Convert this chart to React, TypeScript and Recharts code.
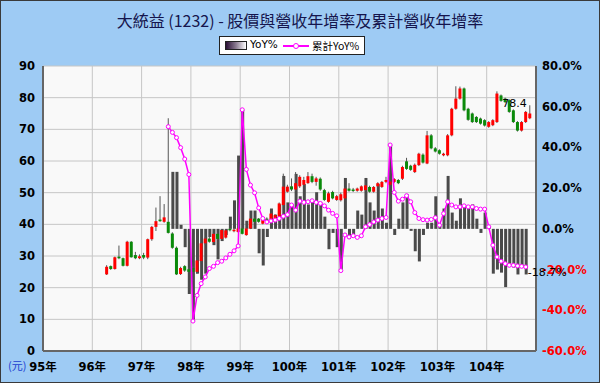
import React from 'react';
import { ComposedChart, Bar, Line, XAxis, YAxis, CartesianGrid, ReferenceDot } from 'recharts';

const TITLE = '大統益 (1232) - 股價與營收年增率及累計營收年增率';

// month index 0 = 95年1月; the chart runs to 104年12月
const MONTH_COUNT = 120;
const PRICE_START = 15; // first candle: 96年4月
const REV_START = 30; // first revenue point: 97年7月

const yearTicks = [-0.5, 11.5, 23.5, 35.5, 47.5, 59.5, 71.5, 83.5, 95.5, 107.5];
const yearLabels = ['95年', '96年', '97年', '98年', '99年', '100年', '101年', '102年', '103年', '104年'];
const priceTicks = [0, 10, 20, 30, 40, 50, 60, 70, 80, 90];
const pctTicks = [-60, -40, -20, 0, 20, 40, 60, 80];

// monthly candles, 96/04 .. 104/11
const priceOpen = [
  24.2, 26.8, 25.9, 29.8, 29.3, 26.9, 34.5, 30.3, 29.3,
  30.3, 29.5, 35.3, 39.2, 41.5, 40.8, 40.8, 37.1, 32.6, 24.3, 26.8, 25.8,
  26.2, 25.0, 28.4, 34.0, 35.5, 34.4, 37.0, 35.4, 35.8, 38.6, 37.9, 37.6,
  38.7, 36.6, 38.7, 41.8, 41.8, 40.2, 41.8, 41.3, 40.8, 42.4, 46.1, 50.3,
  52.0, 51.0, 52.0, 52.5, 53.0, 55.2, 53.4, 54.4, 50.8, 47.1, 50.2, 47.7,
  47.6, 48.2, 51.3, 51.0, 50.6, 50.6, 50.8, 51.8, 50.3, 52.0, 51.8, 53.4,
  52.5, 53.4, 54.0, 54.4, 59.9, 58.5, 56.5, 58.7, 62.0, 59.2, 68.1, 64.0,
  63.4, 61.8, 61.8, 68.1, 76.5, 79.7, 82.9, 76.5, 75.0, 73.9, 73.4, 72.9,
  70.8, 71.3, 72.3, 80.7, 79.7, 79.2, 76.0, 72.3, 69.6, 72.3, 73.5,
];
const priceHigh = [
  27.1, 27.0, 29.8, 33.3, 29.5, 34.8, 34.7, 31.3, 30.5,
  31.0, 35.5, 39.5, 45.3, 48.9, 46.4, 73.5, 37.5, 33.0, 26.6, 27.1, 26.5,
  26.8, 28.9, 34.3, 36.0, 36.2, 37.3, 37.4, 38.5, 38.5, 38.9, 38.6, 38.9,
  39.0, 38.9, 42.0, 42.2, 42.0, 42.0, 42.2, 43.8, 43.2, 46.9, 56.0, 52.5,
  54.5, 56.5, 55.5, 55.0, 56.5, 56.0, 55.0, 54.8, 51.2, 50.3, 50.6, 49.3,
  50.0, 51.8, 53.0, 51.5, 51.6, 52.3, 53.5, 52.2, 52.1, 53.3, 53.7, 55.0,
  53.8, 54.6, 54.3, 58.5, 61.0, 58.8, 59.2, 62.6, 62.4, 69.5, 68.5, 64.4,
  63.7, 62.6, 68.5, 76.8, 83.6, 83.5, 83.2, 76.8, 75.3, 74.2, 73.7, 73.2,
  72.6, 73.2, 82.0, 81.0, 80.0, 79.5, 76.3, 72.6, 72.6, 75.8, 77.6,
];
const priceLow = [
  24.0, 25.6, 25.7, 29.0, 26.7, 26.7, 29.5, 29.0, 29.0,
  29.0, 29.0, 34.8, 37.9, 40.8, 40.5, 37.1, 32.3, 24.0, 24.0, 25.0, 24.8,
  22.0, 24.4, 28.0, 33.5, 34.2, 34.2, 35.0, 35.2, 35.5, 37.8, 37.5, 37.4,
  36.8, 36.4, 38.5, 40.6, 40.5, 40.0, 40.6, 41.0, 40.5, 42.2, 45.8, 50.0,
  50.5, 50.5, 51.5, 52.0, 52.8, 53.0, 52.2, 50.6, 47.4, 46.8, 47.9, 47.4,
  47.2, 48.0, 50.3, 50.2, 50.3, 50.3, 50.5, 50.0, 50.0, 51.7, 51.5, 53.0,
  52.2, 53.0, 52.7, 54.0, 57.2, 56.9, 56.2, 58.4, 59.2, 59.0, 63.7, 62.7,
  62.0, 61.5, 61.5, 67.8, 76.2, 79.4, 75.7, 72.7, 72.0, 72.0, 71.5, 70.9,
  70.5, 71.0, 72.0, 78.7, 78.3, 75.2, 72.0, 69.3, 69.3, 72.0, 73.2,
];
const priceClose = [
  26.6, 25.9, 29.6, 29.3, 26.9, 34.5, 29.6, 29.3, 29.9,
  29.5, 35.3, 39.2, 41.0, 41.0, 42.2, 37.3, 32.6, 24.2, 26.2, 25.4, 25.0,
  25.0, 28.6, 34.0, 35.5, 34.5, 37.0, 35.4, 38.2, 38.1, 38.2, 38.3, 38.7,
  37.0, 38.7, 41.8, 40.8, 40.8, 41.8, 40.8, 43.4, 42.9, 46.6, 51.9, 51.9,
  51.0, 53.0, 55.0, 54.0, 55.2, 53.4, 54.5, 51.0, 47.7, 49.8, 48.2, 48.9,
  49.5, 51.3, 50.6, 50.6, 51.3, 52.0, 52.3, 50.3, 51.8, 53.0, 53.4, 54.0,
  53.5, 54.3, 53.0, 58.1, 57.5, 57.2, 58.8, 62.3, 59.5, 68.1, 64.0, 63.0,
  62.3, 62.3, 68.1, 76.5, 79.7, 82.9, 76.0, 73.0, 72.3, 72.3, 71.8, 71.2,
  72.3, 72.9, 81.3, 79.0, 78.6, 75.5, 72.3, 69.6, 72.3, 75.5, 75.0,
];

// revenue, 97/07 .. 104/10 (%)
const monthYoY = [
  null, 28, 28, 2, -9, -32,
  -45.3, -22, -25, -22, -4, -8, -15, -6, -3, 6, 14, 36,
  58.5, 4, 9, 9, -12, -18, -4, 10, 7, 12, 26, 13,
  12, 27, 16, 22, 12, 14, 18, 13, 6, -10, -2, -9,
  -20.5, 25, -5, -3, 9, 7, 25, 13, 9, 22, 10, 3,
  41.2, -3, 5, 13, 17, -1, -11, -16, -3, 3, 3, 16,
  1.8, 10, 26, 8, 4, 15, 12, 10, 12, 5, -2, 8,
  1, -22, -20, -21.5, -28.6, -17.5, -19, -22.4, -18.5, -22.4,
];
const cumYoY = [
  50.2, 47.4, 44.8, 39.9, 34.3, 26.7,
  -45.3, -32.7, -26.9, -23.6, -19.5, -18.4, -16.6, -15.9, -14.3, -12.5, -10.8, -8.4,
  58.5, 29.2, 21.5, 17.7, 10.3, 5.1, 3.4, 3.9, 4.3, 5.1, 6.2, 7.0,
  11.7, 9.2, 13.6, 13.0, 13.3, 13.8, 13.0, 12.5, 11.3, 9.2, 7.6, 6.4,
  -20.5, -3.0, -4.0, -3.4, -4.2, -3.4, 1.0, 2.1, 3.4, 4.3, 5.1, 5.6,
  41.2, 17.9, 13.6, 14.6, 16.3, 13.3, 8.0, 5.1, 4.5, 4.3, 4.6, 5.5,
  1.8, 7.5, 13.3, 11.7, 10.8, 10.8, 11.3, 10.8, 10.8, 10.0, 9.7, 9.7,
  1.0, -8.0, -13.8, -15.9, -17.1, -17.9, -17.9, -18.2, -18.4, -18.7,
];

const lastPrice = 78.4;

const data = Array.from({ length: MONTH_COUNT }, (_, m) => {
  const p = m - PRICE_START;
  const r = m - REV_START;
  const hasP = p >= 0 && p < priceClose.length;
  const hasR = r >= 0 && r < cumYoY.length;
  return {
    m,
    o: hasP ? priceOpen[p] : null,
    h: hasP ? priceHigh[p] : null,
    l: hasP ? priceLow[p] : null,
    c: hasP ? priceClose[p] : null,
    range: hasP ? [priceLow[p], priceHigh[p]] : null,
    yoy: hasR ? monthYoY[r] : null,
    cum: hasR ? cumYoY[r] : null,
  };
});

const lastPriceMonth = PRICE_START + priceClose.length - 1;
const lastRevMonth = REV_START + cumYoY.length - 1;

const axisFont = '"DejaVu Sans", "Noto Sans CJK TC", sans-serif';

const Candle = (props: any) => {
  const { x, y, width, height, payload } = props;
  if (payload == null || payload.h == null) return null;
  const top = Math.min(y, y + height);
  const h = Math.abs(height);
  const span = payload.h - payload.l;
  const ppu = span > 0 ? h / span : 0;
  const bodyTop = top + (payload.h - Math.max(payload.o, payload.c)) * ppu;
  const bodyBot = top + (payload.h - Math.min(payload.o, payload.c)) * ppu;
  const cx = x + width / 2;
  const up = payload.c >= payload.o;
  return (
    <g>
      <line x1={cx} x2={cx} y1={top} y2={top + h} stroke="#555" strokeWidth={1} />
      <rect x={cx - 1.5} y={bodyTop} width={3} height={Math.max(bodyBot - bodyTop, 1.5)} fill={up ? '#ff0000' : '#0a8a0a'} />
    </g>
  );
};

const PctTick = (props: any) => {
  const { x, y, payload } = props;
  return (
    <text x={x} y={y} dy={4} textAnchor="start" fontSize={11.5} fontWeight="bold" fontFamily={axisFont}
      fill={payload.value < 0 ? '#ff0000' : '#000'}>
      {`${payload.value.toFixed(1)}%`}
    </text>
  );
};

export default function App() {
  return (
    <div style={{ position: 'absolute', left: 0, top: 0, width: 600, height: 383, background: '#9ecbf4', overflow: 'hidden' }}>
      <ComposedChart width={600} height={383} data={data} margin={{ top: 66, right: 0, bottom: 0, left: 0 }}>
        <CartesianGrid xAxisId="price" yAxisId="price" stroke="#c6c6c6" fill="#f9f9f9" />
        <XAxis xAxisId="price" dataKey="m" type="number" domain={[-0.5, MONTH_COUNT - 0.5]} ticks={yearTicks}
          interval={0} height={32} tickLine={false} tickMargin={6} axisLine={{ stroke: '#666', strokeWidth: 2 }}
          tickFormatter={(v: number) => yearLabels[yearTicks.indexOf(v)] ?? ''}
          tick={{ fontSize: 11.5, fontWeight: 'bold', fill: '#000', fontFamily: axisFont }} />
        <XAxis xAxisId="rev" dataKey="m" type="number" domain={[-0.5, MONTH_COUNT - 0.5]} hide />
        <YAxis yAxisId="price" orientation="left" domain={[0, 90]} ticks={priceTicks} interval={0} width={43}
          tickLine={false} tickSize={6} tickMargin={2} axisLine={{ stroke: '#666', strokeWidth: 2 }}
          tick={{ fontSize: 11.5, fontWeight: 'bold', fill: '#000', fontFamily: axisFont }} />
        <YAxis yAxisId="pct" orientation="right" domain={[-60, 80]} ticks={pctTicks} interval={0} width={64}
          tickLine={false} tickSize={4} tickMargin={2} axisLine={{ stroke: '#666', strokeWidth: 2 }} tick={<PctTick />} />
        <Bar xAxisId="rev" yAxisId="pct" dataKey="yoy" barSize={3} fill="#4a4a4a" isAnimationActive={false} />
        <Bar xAxisId="price" yAxisId="price" dataKey="range" barSize={4} shape={Candle} isAnimationActive={false} />
        <Line xAxisId="rev" yAxisId="pct" dataKey="cum" type="linear" stroke="#ff00ff" strokeWidth={1.5}
          dot={{ r: 2, fill: '#fff', stroke: '#ff00ff', strokeWidth: 1 }} isAnimationActive={false} />
        <ReferenceDot xAxisId="price" yAxisId="price" x={lastPriceMonth} y={lastPrice} r={0}
          label={{ value: String(lastPrice), position: 'left', offset: 3, fontSize: 11, fill: '#000', fontFamily: axisFont }} />
        <ReferenceDot xAxisId="rev" yAxisId="pct" x={lastRevMonth} y={cumYoY[cumYoY.length - 1]} r={0}
          label={{ value: `${cumYoY[cumYoY.length - 1]}%`, position: 'right', offset: 2, dy: 5, fontSize: 11, fill: '#000', fontFamily: axisFont }} />
      </ComposedChart>

      <div style={{ position: 'absolute', top: 8, left: 0, width: 600, textAlign: 'center', fontSize: 16, lineHeight: '24px', color: '#15154d', fontFamily: '"Noto Sans CJK TC", sans-serif' }}>
        {TITLE}
      </div>

      <div style={{ position: 'absolute', top: 36, left: 219, width: 144, height: 17, background: '#fff', border: '1.5px solid #222', fontFamily: axisFont, fontSize: 10.5, color: '#000' }}>
        <div style={{ position: 'absolute', left: 5, top: 4, width: 20, height: 7, border: '1px solid #222', background: 'linear-gradient(90deg, #2a1035, #8a7a90 50%, #ffffff)' }} />
        <span style={{ position: 'absolute', left: 30, top: 1 }}>YoY%</span>
        <div style={{ position: 'absolute', left: 63, top: 8, width: 26, height: 1.5, background: '#ff00ff' }} />
        <div style={{ position: 'absolute', left: 73, top: 6, width: 4, height: 4, borderRadius: 3, border: '1px solid #ff00ff', background: '#fff' }} />
        <span style={{ position: 'absolute', left: 92, top: 1, fontFamily: '"Noto Sans CJK TC", sans-serif' }}>累計YoY%</span>
      </div>

      <div style={{ position: 'absolute', left: 8, top: 358, fontSize: 11, lineHeight: '14px', color: '#2040d0', fontFamily: '"Noto Sans CJK TC", sans-serif' }}>(元)</div>

      <div style={{ position: 'absolute', inset: 0, border: '1.5px solid #3a3a3a', pointerEvents: 'none' }} />
    </div>
  );
}
